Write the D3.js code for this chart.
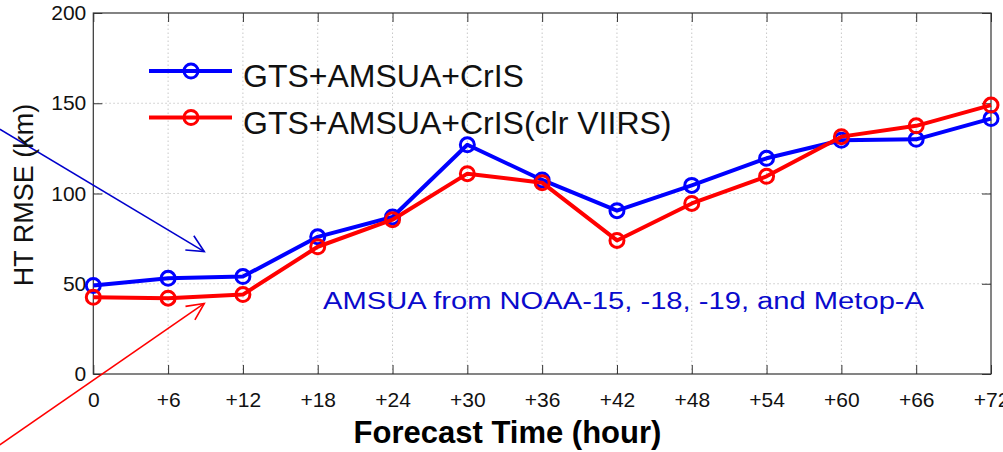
<!DOCTYPE html>
<html>
<head>
<meta charset="utf-8">
<script src="https://cdn.jsdelivr.net/npm/d3@7"></script>
<style>
  body { margin: 0; background: #fff; }
  svg { display: block; font-family: "Liberation Sans", Arial, sans-serif; }
</style>
</head>
<body>
<div id="chart"></div>
<script>
// forecast hours and RMSE values (km)
const hours = [0, 6, 12, 18, 24, 30, 36, 42, 48, 54, 60, 66, 72];
const rmseCrIS = [49, 53, 54, 76, 87, 127, 107.5, 90.5, 104.5, 119.5, 129.5, 130, 141.5];
const rmseCrISViirs = [42.5, 42, 44, 70.5, 85.5, 111, 106, 74, 94.5, 109.5, 131.5, 137.5, 149];
const seriesNames = ["GTS+AMSUA+CrIS", "GTS+AMSUA+CrIS(clr VIIRS)"];
const seriesColors = ["#0000ff", "#ff0000"];
const yTicks = [0, 50, 100, 150, 200];
const note = "AMSUA from NOAA-15, -18, -19, and Metop-A";

// pointer arrows in data units: [start, tip]
const blueArrow = [[-7.5, 135.6], [8.9, 67.8]];
const redArrow = [[-7.5, -39.3], [8.9, 39.1]];

const dimensions = {
  width: 1003,
  height: 452,
  left: 93.3,
  right: 12,
  top: 13,
  bottom: 78,
};
dimensions.ctrWidth = dimensions.width - dimensions.left - dimensions.right;
dimensions.ctrHeight = dimensions.height - dimensions.top - dimensions.bottom;

const svg = d3
  .select("#chart")
  .append("svg")
  .attr("width", dimensions.width)
  .attr("height", dimensions.height);

const xScale = d3.scaleLinear().domain([0, 72]).range([dimensions.left, dimensions.left + dimensions.ctrWidth]);
const yScale = d3.scaleLinear().domain([0, 200]).range([dimensions.top + dimensions.ctrHeight, dimensions.top]);

const x0 = xScale.range()[0], x1 = xScale.range()[1];
const y0 = yScale.range()[0], y1 = yScale.range()[1];

// grid
const grid = svg.append("g").attr("stroke", "#c8c8c8").attr("stroke-dasharray", "1.5,2.5").attr("stroke-width", 1);
grid.selectAll(".vg")
  .data(hours.slice(1, -1))
  .join("line")
  .attr("x1", (d) => xScale(d)).attr("x2", (d) => xScale(d))
  .attr("y1", y0).attr("y2", y1);
grid.selectAll(".hg")
  .data(yTicks.slice(1, -1))
  .join("line")
  .attr("y1", (d) => yScale(d)).attr("y2", (d) => yScale(d))
  .attr("x1", x0).attr("x2", x1);

// axes (ticks pointing inward)
const fmtHour = (d) => (d === 0 ? "0" : "+" + d);
const styleAxis = (g) => {
  g.select(".domain").remove();
  g.selectAll(".tick line").attr("stroke", "#333");
  g.selectAll(".tick text").attr("fill", "#111").attr("font-size", 21).attr("font-family", "Liberation Sans, Arial, sans-serif");
};

svg.append("g")
  .attr("transform", `translate(0, ${y0})`)
  .call(d3.axisBottom(xScale).tickValues(hours).tickFormat(fmtHour).tickSize(-9).tickPadding(18))
  .call(styleAxis);
svg.append("g")
  .attr("transform", `translate(0, ${y1})`)
  .call(d3.axisTop(xScale).tickValues(hours).tickFormat("").tickSize(-9))
  .call(styleAxis);
svg.append("g")
  .attr("transform", `translate(${x0}, 0)`)
  .call(d3.axisLeft(yScale).tickValues(yTicks).tickSize(-9).tickPadding(7))
  .call(styleAxis);
svg.append("g")
  .attr("transform", `translate(${x1}, 0)`)
  .call(d3.axisRight(yScale).tickValues(yTicks).tickFormat("").tickSize(-9))
  .call(styleAxis);

svg.append("rect")
  .attr("x", x0).attr("y", y1)
  .attr("width", x1 - x0).attr("height", y0 - y1)
  .attr("fill", "none").attr("stroke", "#333").attr("stroke-width", 1.2);

// series
const lineGenerator = d3.line().x((d) => xScale(d[0])).y((d) => yScale(d[1]));
[rmseCrIS, rmseCrISViirs].forEach((values, i) => {
  const pts = hours.map((h, j) => [h, values[j]]);
  svg.append("path")
    .datum(pts)
    .attr("d", lineGenerator)
    .attr("fill", "none")
    .attr("stroke", seriesColors[i])
    .attr("stroke-width", 4)
    .attr("stroke-linejoin", "round");
  svg.append("g")
    .selectAll("circle")
    .data(pts)
    .join("circle")
    .attr("cx", (d) => xScale(d[0]))
    .attr("cy", (d) => yScale(d[1]))
    .attr("r", 7)
    .attr("fill", "none")
    .attr("stroke", seriesColors[i])
    .attr("stroke-width", 3);
});

// legend (no box)
const legend = svg.append("g");
seriesNames.forEach((name, i) => {
  const ly = 71 + i * 46.5;
  legend.append("line")
    .attr("x1", 149).attr("x2", 232).attr("y1", ly).attr("y2", ly)
    .attr("stroke", seriesColors[i]).attr("stroke-width", 4);
  legend.append("circle")
    .attr("cx", 191).attr("cy", ly).attr("r", 7)
    .attr("fill", "none").attr("stroke", seriesColors[i]).attr("stroke-width", 3);
  legend.append("text")
    .attr("x", 243).attr("y", ly + 16)
    .attr("font-size", 32)
    .attr("fill", "#111")
    .text(name);
});

// note
svg.append("text")
  .attr("x", 323).attr("y", 308.5)
  .attr("font-size", 23.5)
  .attr("fill", "#0a0acc")
  .attr("textLength", 601)
  .attr("lengthAdjust", "spacingAndGlyphs")
  .text(note);

// arrows with open heads
const drawArrow = (pts, color) => {
  const [s, t] = pts.map((p) => [xScale(p[0]), yScale(p[1])]);
  const ang = Math.atan2(t[1] - s[1], t[0] - s[0]);
  const len = 19, spread = 0.45;
  const wing = (a) => [t[0] - len * Math.cos(ang + a), t[1] - len * Math.sin(ang + a)];
  const g = svg.append("g").attr("stroke", color).attr("stroke-width", 1.6).attr("fill", "none");
  g.append("line").attr("x1", s[0]).attr("y1", s[1]).attr("x2", t[0]).attr("y2", t[1]);
  g.append("path").attr("d", d3.line()([wing(spread), t, wing(-spread)]));
};
drawArrow(blueArrow, "#0000cc");
drawArrow(redArrow, "#ff0000");

// axis titles
svg.append("text")
  .attr("x", 507.5).attr("y", 442.5)
  .attr("text-anchor", "middle")
  .attr("font-size", 31)
  .attr("font-weight", "bold")
  .attr("fill", "#000")
  .text("Forecast Time (hour)");

svg.append("text")
  .attr("transform", "translate(33, 195) rotate(-90)")
  .attr("text-anchor", "middle")
  .attr("font-size", 27)
  .attr("fill", "#111")
  .text("HT RMSE (km)");
</script>
</body>
</html>
